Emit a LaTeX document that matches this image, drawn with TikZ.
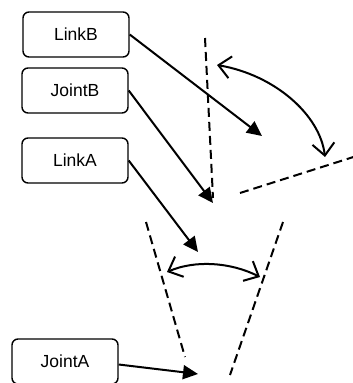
\documentclass[tikz,border=0pt]{standalone}
\usepackage{fontspec}
\setmainfont{Liberation Sans}
\usetikzlibrary{arrows.meta}
\tikzset{
  label box/.style={draw, rounded corners=6pt, line width=1.4pt,
    minimum width=106pt, minimum height=45pt, inner sep=0pt,
    font=\fontsize{17.5}{20}\selectfont},
  pointer/.style={line width=2pt, -{Triangle[length=15pt,width=14pt]}},
  guide/.style={line width=2pt, dash pattern=on 9pt off 5pt},
  swing/.style={line width=2pt, {Straight Barb[length=12pt,width=22pt,line width=2pt]}-{Straight Barb[length=12pt,width=22pt,line width=2pt]}}
}
\begin{document}
\begin{tikzpicture}[x=1pt,y=-1pt]
\useasboundingbox (0,0) rectangle (353,383);
\begin{scope}
\clip (0,0) rectangle (353,383);
% labelled parts
\node[label box] (linkb)  at (76,34.5)  {LinkB};
\node[label box] (jointb) at (75,90.5)  {JointB};
\node[label box] (linka)  at (75,160.5) {LinkA};
\node[label box] (jointa) at (65,361.5) {JointA};

% axis guide lines
\coordinate (bv1) at (205,38);
\coordinate (bv2) at (213,198);
\coordinate (bh1) at (240,193);
\coordinate (bh2) at (355,156.5);
\coordinate (al1) at (146,222);
\coordinate (al2) at (185,357);
\coordinate (ar1) at (283,222);
\coordinate (ar2) at (230,375);
\draw[guide] (bv1) -- (bv2);
\draw[guide] (bh1) -- (bh2);
\draw[guide] (al1) -- (al2);
\draw[guide] (ar1) -- (ar2);

% pointer targets
\coordinate (tlinkb)  at (262,136);
\coordinate (tjointb) at (213,203);
\coordinate (tlinka)  at (198,252);
\coordinate (tjointa) at (198,374);
\draw[pointer] (linkb.east)  -- (tlinkb);
\draw[pointer] (jointb.east) -- (tjointb);
\draw[pointer] (linka.east)  -- (tlinka);
\draw[pointer] ([yshift=-3pt]jointa.east) -- (tjointa);

% joint angle arcs
\coordinate (sb1) at (217,65);
\coordinate (sb2) at (325,157);
\coordinate (sa1) at (167,272);
\coordinate (sa2) at (260,277);
\draw[swing] (sb1) .. controls (275,75) and (320,115) .. (sb2);
\draw[swing] (sa1) .. controls (195,260) and (230,262) .. (sa2);
\end{scope}
\end{tikzpicture}
\end{document}
